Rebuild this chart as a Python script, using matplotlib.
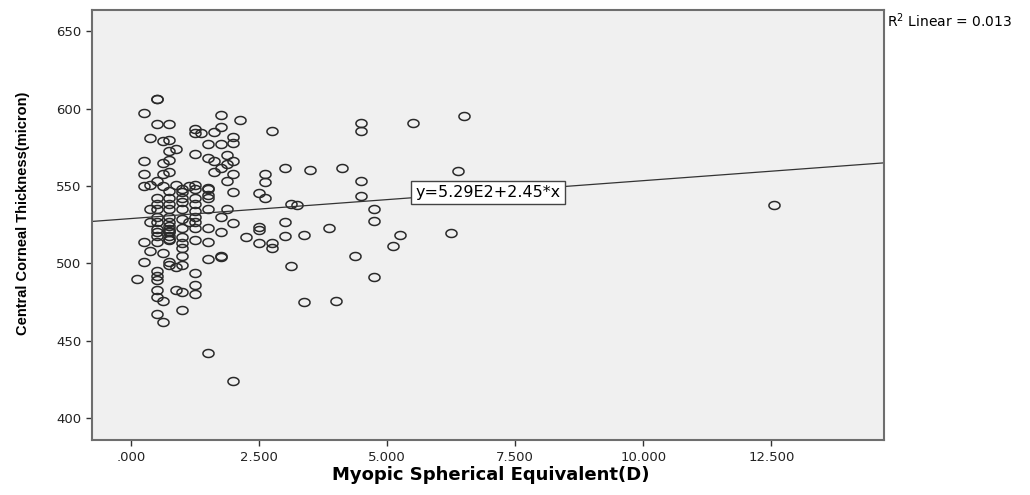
import numpy as np
import matplotlib.pyplot as plt
from matplotlib.path import Path

# Myopic spherical equivalent (D) and central corneal thickness (micron)
se_d = [
    0.5, 0.5, 0.25, 1.75, 2.125, 0.5, 0.75, 1.25, 1.25, 1.375, 1.625, 1.75, 2.0, 2.0,
    0.375, 0.625, 0.75, 0.875, 0.75, 1.5, 1.75, 1.25, 1.5, 1.625, 1.875, 2.0, 1.875,
    0.25, 0.625, 0.75, 0.25, 0.625, 0.75, 1.625, 1.75, 2.0, 1.875, 0.25, 0.375, 0.5,
    0.625, 0.875, 1.125, 1.25, 1.5,
    0.75, 1.0, 1.25, 1.5, 1.5, 2.0, 0.5, 0.5, 0.75, 0.75, 1.0, 1.25, 1.25, 1.5,
    0.375, 0.5, 0.75, 1.0, 1.25, 1.5, 1.875, 0.5, 0.75, 1.0, 1.25, 1.75,
    0.375, 0.5, 0.75, 1.125, 1.25, 2.0, 0.5, 0.75, 0.75, 1.0, 1.25, 1.5,
    0.75, 0.5, 1.75, 2.25, 0.25, 0.5, 0.75, 1.0, 1.0, 1.25, 1.5,
    0.375, 0.625, 1.0, 1.0, 0.25, 0.75, 0.75, 0.875, 1.0, 1.5, 1.75, 1.75,
    1.25, 0.5, 0.5, 0.5, 0.125, 1.25,
    0.75, 0.75, 0.75, 1.0, 1.0, 0.5,
    0.5, 0.5, 0.875, 1.0, 1.25, 0.625, 0.5, 1.0, 0.625, 1.5, 2.0,
    2.75, 4.5, 4.5, 3.0, 3.5, 4.125, 2.625, 2.625, 4.5, 2.5, 2.625, 4.5,
    3.125, 3.25, 4.75, 4.75, 3.0, 2.5, 2.5, 3.875, 2.5, 2.75, 2.75, 3.0,
    3.375, 5.25, 5.125, 4.375, 3.125, 4.75, 3.375, 4.0,
    5.5, 6.5, 6.375, 6.25, 12.55,
]
cct_um = [
    606, 606, 597, 596, 593, 590, 590, 587, 584, 584, 585, 588, 582, 578,
    581, 579, 580, 574, 573, 577, 577, 571, 568, 566, 570, 566, 564,
    566, 565, 567, 558, 558, 559, 559, 562, 558, 553, 550, 551, 553,
    550, 551, 550, 551, 549,
    547, 548, 548, 548, 544, 546, 542, 538.5, 542, 538.5, 542, 542, 538.5, 542,
    535, 535, 535, 535, 534, 535, 535, 530, 530, 529, 530, 530,
    527, 527, 527, 527, 527, 526, 522, 522, 520, 523, 523, 523,
    516, 518, 520, 517, 514, 514, 515, 517, 513, 515, 514,
    508, 507, 510, 505, 501, 501, 499, 498, 499, 503, 505, 504,
    494, 495, 492, 489, 490, 486,
    524, 518, 521, 546, 540, 520,
    482.5, 478, 482.5, 481.5, 480.5, 475.5, 467.5, 470, 462, 442, 424,
    585.5, 591, 585.5, 561.5, 560.5, 561.5, 557.5, 552.5, 553.5, 545.5, 542.5, 543.5,
    538.5, 537.5, 535.5, 527.5, 526.5, 523.5, 521.5, 523, 513.5, 513.5, 510, 517.5,
    518.5, 518.5, 511.5, 504.5, 498.5, 491, 475, 475.5,
    591, 595.5, 559.5, 519.5, 537.5,
]

# linear fit as reported on the chart
intercept = 529.0
slope = 2.45
fit_label = 'y=5.29E2+2.45*x'
r2_label = r'R$^2$ Linear = 0.013'

x_ticks = [0, 2.5, 5, 7.5, 10, 12.5]
x_ticklabels = ['.000', '2.500', '5.000', '7.500', '10.000', '12.500']
y_ticks = [400, 450, 500, 550, 600, 650]

plt.rcParams['font.family'] = ['DejaVu Sans']

fig = plt.figure(figsize=(10.30, 4.95), dpi=100)
ax = fig.add_axes([0.0893, 0.111, 0.769, 0.869])
ax.set_facecolor('#f0f0f0')

# slightly flattened open circles, like the original
theta = np.linspace(0, 2 * np.pi, 41)
ellipse = Path(np.column_stack([np.cos(theta), 0.72 * np.sin(theta)]))
ax.plot(se_d, cct_um, linestyle='none', marker=ellipse, ms=8,
        mfc='none', mec='#2a2a2a', mew=1.1)

xlim = (-0.76, 14.7)
ax.set_xlim(xlim)
ax.set_ylim(385.8, 663.9)

xs = np.array(xlim)
ax.plot(xs, intercept + slope * xs, color='#333333', lw=0.9)

lx = 6.97
ax.text(lx, intercept + slope * lx, fit_label, ha='center', va='center', fontsize=11.5,
        bbox=dict(boxstyle='square,pad=0.25', fc='white', ec='#444444', lw=1))

ax.set_xticks(x_ticks)
ax.set_xticklabels(x_ticklabels)
ax.set_yticks(y_ticks)
ax.tick_params(direction='out', length=4, width=1, color='#333333',
               labelsize=9.5, labelcolor='#222222')
ax.tick_params(axis='x', pad=4)

for s in ax.spines.values():
    s.set_color('#6e6e6e')
    s.set_linewidth(1.5)

ax.set_xlabel('Myopic Spherical Equivalent(D)', fontsize=13, fontweight='bold')
ax.xaxis.set_label_coords(0.504, -0.06)
ax.set_ylabel('Central Corneal Thickness(micron)', fontsize=10.5, fontweight='bold',
              family=['Liberation Sans Narrow', 'Liberation Sans', 'DejaVu Sans'])
ax.yaxis.set_label_coords(-0.078, 0.528)

fig.text(0.861, 0.958, r2_label, fontsize=10, va='center', ha='left')

fig.savefig('out.png', dpi=100)
